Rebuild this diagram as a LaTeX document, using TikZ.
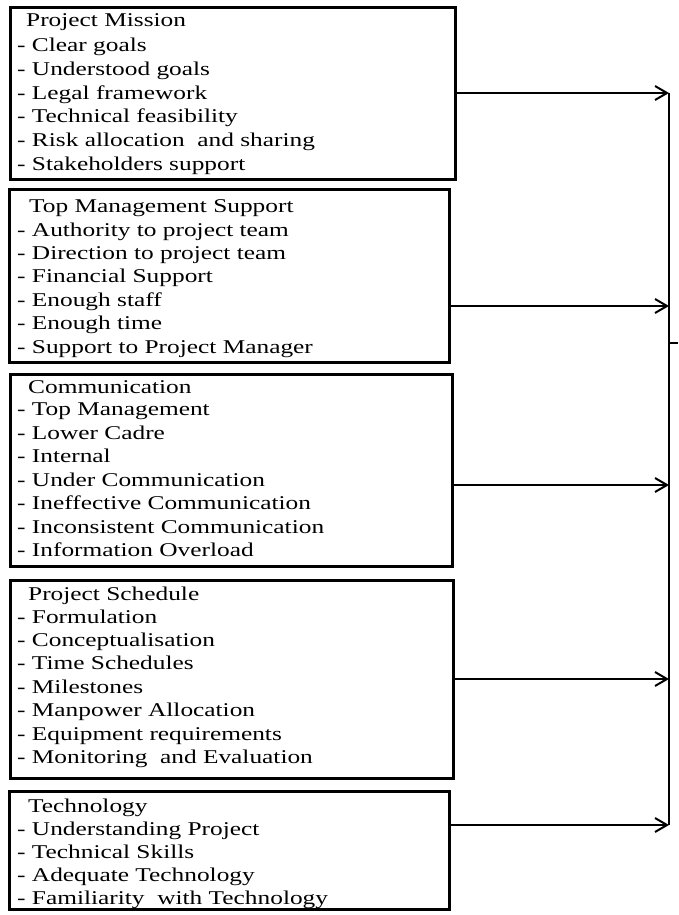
\documentclass[tikz,border=0pt]{standalone}
\usepackage{fontspec}
\setmainfont{Liberation Serif}[FakeStretch=1.3]
\usetikzlibrary{arrows.meta}
\tikzset{
  boxframe/.style={draw=black, line width=2.8pt, rectangle, inner sep=0pt},
  itemtext/.style={anchor=base west, inner sep=0pt, font=\fontsize{19.5}{23.5}\selectfont, text=black},
  conn/.style={draw=black, line width=1.8pt},
  arr/.style={conn, -{Straight Barb[length=12pt,width=14pt,line width=2pt]}}
}
\begin{document}
\begin{tikzpicture}[x=1pt,y=-1pt]
\useasboundingbox[fill=white] (0,0) rectangle (678,915);

% boxes
\node[boxframe, anchor=north west, minimum width=445pt, minimum height=171.5pt] (b1) at (9,6.5) {};
\node[boxframe, anchor=north west, minimum width=440pt, minimum height=173pt] (b2) at (8,188) {};
\node[boxframe, anchor=north west, minimum width=442pt, minimum height=192pt] (b3) at (9,373) {};
\node[boxframe, anchor=north west, minimum width=443pt, minimum height=198pt] (b4) at (9,579) {};
\node[boxframe, anchor=north west, minimum width=440pt, minimum height=118pt] (b5) at (8,790) {};

% box 1 text
\node[itemtext] (t1) at (26,27) {Project Mission};
\foreach \t [count=\i] in {- Clear goals, - Understood goals, - Legal framework, - Technical feasibility, - Risk allocation\ \ and sharing, - Stakeholders support}
  \node[itemtext] (t1-\i) at (17,{52+(\i-1)*23.6}) {\t};

% box 2 text
\node[itemtext] (t2) at (29,212) {Top Management Support};
\foreach \t [count=\i] in {- Authority to project team, - Direction to project team, - Financial Support, - Enough staff, - Enough time, - Support to Project Manager}
  \node[itemtext] (t2-\i) at (17,{236+(\i-1)*23.4}) {\t};

% box 3 text
\node[itemtext] (t3) at (28,393) {Communication};
\foreach \t [count=\i] in {- Top Management, - Lower Cadre, - Internal, - Under Communication, - Ineffective Communication, - Inconsistent Communication, - Information Overload}
  \node[itemtext] (t3-\i) at (17,{415.5+(\i-1)*23.5}) {\t};

% box 4 text
\node[itemtext] (t4) at (28,600) {Project Schedule};
\foreach \t [count=\i] in {- Formulation, - Conceptualisation, - Time Schedules, - Milestones, - Manpower Allocation, - Equipment\ requirements, - Monitoring\ \ and Evaluation}
  \node[itemtext] (t4-\i) at (17,{623+(\i-1)*23.4}) {\t};

% box 5 text
\node[itemtext] (t5) at (28,812) {Technology};
\foreach \t [count=\i] in {- Understanding Project, - Technical Skills, - Adequate Technology, - Familiarity\ \ with Technology}
  \node[itemtext] (t5-\i) at (17,{835+(\i-1)*23.3}) {\t};

% connector coordinates on the collector line
\coordinate (c1) at (669,93);
\coordinate (c2) at (669,306);
\coordinate (c3) at (669,485);
\coordinate (c4) at (669,679);
\coordinate (c5) at (669,825);
\coordinate (out0) at (669,343);
\coordinate (out1) at (678,343);

% collector line
\draw[conn] (c1) -- (c5);
\draw[conn] (out0) -- (out1);

% arrows
\draw[arr] (b1.east |- c1) -- (c1);
\draw[arr] (b2.east |- c2) -- (c2);
\draw[arr] (b3.east |- c3) -- (c3);
\draw[arr] (b4.east |- c4) -- (c4);
\draw[arr] (b5.east |- c5) -- (c5);
\end{tikzpicture}
\end{document}
